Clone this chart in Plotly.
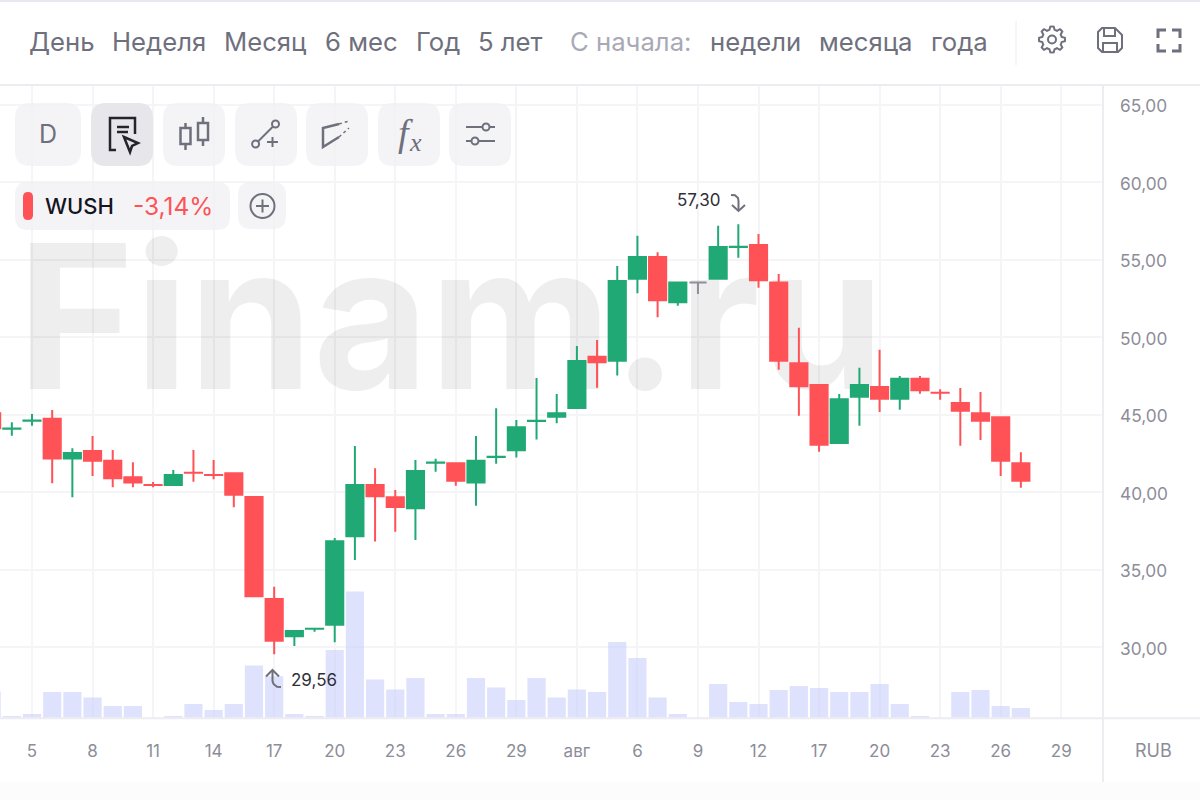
import math
import plotly.graph_objects as go

W = 1200
H = 800

# candles are placed by trading-day index, the axis has no calendar gaps
days = list(range(-2, 50))
opens = [45.11, 44.11, 44.63, 44.75, 42.20, 42.68, 42.04, 40.99, 40.49, 40.48, 41.28, 41.13, 41.24,
         39.71, 33.13, 30.72, 31.20, 31.47, 37.17, 40.49, 39.69, 38.98, 41.92, 41.89, 40.65, 42.29,
         42.72, 44.61, 44.89, 45.45, 48.75, 48.50, 53.79, 55.20, 52.27, 53.55, 53.79, 55.84, 55.97,
         53.54, 48.34, 46.94, 43.19, 46.18, 46.81, 46.05, 47.33, 46.44, 45.78, 45.11, 44.86, 41.89]
highs = [45.17, 44.53, 45.06, 45.32, 42.85, 43.65, 42.74, 41.95, 40.68, 41.45, 42.74, 42.10, 41.30,
         39.77, 33.92, 31.13, 31.26, 37.06, 43.00, 41.56, 40.16, 42.10, 42.18, 41.95, 43.65, 45.43,
         44.68, 47.39, 46.35, 49.45, 49.84, 54.61, 56.57, 55.50, 53.60, 53.60, 57.21, 57.30, 56.68,
         54.10, 50.63, 47.00, 46.35, 48.05, 49.21, 47.52, 47.52, 46.66, 46.74, 46.48, 44.92, 42.59]
lows = [44.08, 43.66, 44.31, 40.59, 39.69, 41.06, 40.34, 40.34, 40.34, 40.42, 40.70, 40.85, 39.05,
        33.24, 29.56, 30.10, 31.02, 30.34, 35.65, 36.83, 37.47, 36.94, 41.34, 40.44, 39.15, 41.86,
        42.25, 43.41, 44.46, 45.39, 46.76, 47.54, 52.85, 51.30, 52.05, 52.81, 53.73, 55.15, 53.21,
        47.92, 44.95, 42.63, 43.13, 44.31, 45.19, 45.34, 46.37, 45.99, 43.02, 43.39, 41.06, 40.31]
closes = [44.14, 44.12, 44.64, 42.20, 42.55, 42.05, 40.91, 40.65, 40.48, 41.13, 41.27, 41.12, 39.85,
          33.30, 30.43, 31.07, 31.21, 36.86, 40.49, 39.75, 39.07, 41.39, 41.93, 40.76, 42.04, 42.30,
          44.21, 44.62, 45.11, 48.49, 48.40, 53.65, 55.20, 52.40, 53.54, 53.55, 55.84, 55.85, 53.69,
          48.50, 46.85, 43.08, 46.02, 46.94, 46.05, 47.33, 46.59, 46.43, 45.27, 44.63, 42.05, 40.76]
volumes = [26.7, 2.3, 4.3, 26.3, 26.3, 20.7, 12.3, 12.3, 0, 2.3, 14.3, 8.3, 14.3, 52.7, 42, 4.3, 2.3,
           68.3, 126.7, 38.7, 28.7, 40.3, 4.3, 4.3, 40.3, 30.7, 18.3, 40.3, 20.7, 28.7, 26.3, 76.3,
           60.3, 20.7, 4.3, 0, 34.3, 16.3, 14.3, 28.3, 32.3, 30.3, 26.3, 26.3, 34.3, 14.3, 2.3, 0,
           26.3, 28.3, 12.3, 10.3]

# the one unchanged day is grey
flat_day = 33

tick_days = list(range(0, 52, 3))
tick_labels = ['5', '8', '11', '14', '17', '20', '23', '26', '29', 'авг',
               '6', '9', '12', '17', '20', '23', '26', '29']
price_ticks = [30, 35, 40, 45, 50, 55, 60, 65]

period_labels = [('День', 27), ('Неделя', 110), ('Месяц', 222), ('6 мес', 323), ('Год', 414), ('5 лет', 476),
                 ('недели', 708), ('месяца', 817), ('года', 929)]

GREEN = '#20a975'
RED = '#ff5257'
GREY = '#6f707d'
LIGHT = '#8d8d99'
LINE = '#ececf1'
GRID = '#f5f5f8'
FONT = 'Inter'

price_range = [25.43, 66.29]
x_range = [-1.586, 53.07]
plot_left, plot_right, plot_top, plot_bottom = 0, 1103, 85, 718.3


def fx(x):
    return x / W


def fy(y):
    return 1 - y / H


def rrect(x0, y0, x1, y1, r):
    pts = [('M', x0 + r, y0), ('L', x1 - r, y0), ('Q', x1, y0, x1, y0 + r), ('L', x1, y1 - r),
           ('Q', x1, y1, x1 - r, y1), ('L', x0 + r, y1), ('Q', x0, y1, x0, y1 - r), ('L', x0, y0 + r),
           ('Q', x0, y0, x0 + r, y0)]
    out = ''
    for p in pts:
        if p[0] == 'Q':
            out += f'Q{fx(p[1])},{fy(p[2])} {fx(p[3])},{fy(p[4])} '
        else:
            out += f'{p[0]}{fx(p[1])},{fy(p[2])} '
    return out + 'Z'


def poly(points, close=False):
    out = ''
    for i, (x, y) in enumerate(points):
        out += ('M' if i == 0 else 'L') + f'{fx(x)},{fy(y)} '
    return out + ('Z' if close else '')


shapes = []
annotations = []


def box(x0, y0, x1, y1, r, fill):
    shapes.append(dict(type='path', path=rrect(x0, y0, x1, y1, r), xref='paper', yref='paper',
                       fillcolor=fill, line=dict(width=0), layer='above'))


def stroke(points, color=GREY, width=2, close=False, dash='solid'):
    shapes.append(dict(type='path', path=poly(points, close), xref='paper', yref='paper',
                       line=dict(color=color, width=width, dash=dash), layer='above'))


def ring(cx, cy, r, color=GREY, width=2):
    shapes.append(dict(type='circle', xref='paper', yref='paper', x0=fx(cx - r), x1=fx(cx + r),
                       y0=fy(cy + r), y1=fy(cy - r), line=dict(color=color, width=width), layer='above'))


def label(text, x, y, size, color, anchor='left', weight=400, family=FONT):
    annotations.append(dict(text=text, x=fx(x), y=fy(y), xref='paper', yref='paper', showarrow=False,
                            xanchor=anchor, yanchor='middle', align=anchor,
                            font=dict(family=family, size=size, color=color, weight=weight)))


# header
for text, left in period_labels:
    label(text, left, 42, 25.7, GREY)
label('С начала:', 568, 42, 25.7, '#a9a9b5')

stroke([(0, 1), (1200, 1)], '#e8e8f0', 2)
stroke([(0, 85), (1200, 85)], LINE, 2)
stroke([(1016, 21), (1016, 65)], LINE, 1)
stroke([(0, 718.3), (1200, 718.3)], LINE, 2)
stroke([(1103, 85), (1103, 782)], LINE, 2)
shapes.append(dict(type='rect', xref='paper', yref='paper', x0=0, x1=1, y0=0, y1=fy(782),
                   fillcolor='#fcfcfd', line=dict(width=0), layer='below'))

# gear
gear = []
for i in range(48):
    a = 2 * math.pi * i / 48
    r = 13 if (i + 1) % 6 < 3 else 10
    gear.append((1052 + r * math.sin(a), 39.5 - r * math.cos(a)))
stroke(gear, GREY, 2, close=True)
ring(1052, 39.5, 4)

# save
stroke([(1102, 28), (1115, 28), (1122, 35), (1122, 48), (1118, 52), (1102, 52), (1098, 48), (1098, 32)],
       GREY, 2, close=True)
stroke([(1104, 28), (1104, 36), (1115, 36), (1115, 28)])
stroke([(1103, 52), (1103, 43), (1117, 43), (1117, 52)])

# fullscreen
for a, b, c in [((1158, 38), (1158, 30), (1166, 30)), ((1172, 30), (1180, 30), (1180, 38)),
                ((1158, 44), (1158, 51), (1166, 51)), ((1172, 51), (1180, 51), (1180, 44))]:
    stroke([a, b, c], GREY, 3)

# drawing tool buttons
box(15, 103, 81, 166, 15, 'rgba(240,240,244,0.75)')
box(91, 103, 153, 166, 15, '#e6e6eb')
for left in [163, 235, 306, 378, 449]:
    box(left, 103, left + 62, 166, 15, 'rgba(240,240,244,0.75)')
label('D', 48, 134, 25, GREY, anchor='center')

stroke([(116, 150), (110, 150), (110, 118), (135, 118), (135, 134)], '#24242c', 2.5)
stroke([(117, 127), (129, 127)], '#24242c', 2.5)
stroke([(117, 132), (128, 132)], '#24242c', 2.5)
stroke([(124, 137), (138, 143), (132, 146), (130, 152)], '#24242c', 2.5, close=True)

stroke([(180.5, 128), (190.5, 128), (190.5, 144), (180.5, 144)], GREY, 2.5, close=True)
stroke([(185.5, 123), (185.5, 128)], GREY, 2.5)
stroke([(185.5, 144), (185.5, 150)], GREY, 2.5)
stroke([(198, 123), (208, 123), (208, 140), (198, 140)], GREY, 2.5, close=True)
stroke([(203, 117), (203, 123)], GREY, 2.5)
stroke([(203, 140), (203, 146)], GREY, 2.5)

ring(275.5, 124, 3.5)
ring(255.6, 144, 3.5)
stroke([(258, 141.5), (273, 126.5)])
stroke([(267, 142), (278, 142)])
stroke([(272.5, 137), (272.5, 147)])

stroke([(339, 124), (323, 128), (323, 147), (339, 137)], GREY, 2.5)
stroke([(339, 124), (349, 121)], GREY, 1.5, dash='dot')
stroke([(339, 137), (349, 128)], GREY, 1.5, dash='dot')

label('<i>f</i>', 405, 133, 38, GREY, anchor='center', family='Liberation Serif')
label('<i>x</i>', 415, 143, 26, GREY, anchor='center', family='Liberation Serif')

stroke([(466, 127), (482, 127)])
stroke([(490, 127), (495, 127)])
ring(486, 127, 3.5)
stroke([(466, 141), (471, 141)])
stroke([(479, 141), (495, 141)])
ring(475, 141, 3.5)

# ticker chip
box(15, 182, 230, 230, 13, 'rgba(240,240,244,0.75)')
box(238, 182, 286, 229, 13, 'rgba(240,240,244,0.75)')
box(23, 192, 33, 220, 5, RED)
label('WUSH', 43, 206, 22, '#15151f', weight=500)
label('-3,14%', 131, 206, 24.5, RED)
ring(262.5, 206, 12)
stroke([(256, 206), (269, 206)])
stroke([(262.5, 199.5), (262.5, 212.5)])

# extreme labels
label('57,30', 675, 200, 17, '#2f2f38')
stroke([(731, 195), (735, 195.3), (738, 198), (738.5, 201), (738.5, 211)])
stroke([(732, 205), (738.5, 211), (745, 205)])
label('29,56', 289, 680, 17, '#2f2f38')
stroke([(281, 687), (277, 686.7), (273.5, 684), (272.5, 681), (272.5, 670)])
stroke([(266, 676.5), (272.5, 670), (279, 676.5)])

label('RUB', 1153.5, 750, 18, LIGHT, anchor='center')

fig = go.Figure()

# watermark goes on the bottom y axis so that it stays behind the candles
fig.add_trace(go.Scatter(x=[20.75], y=[49.9], mode='text', text=['Finam.ru'], yaxis='y',
                         textfont=dict(family=FONT, size=200, color='rgba(0,0,0,0.065)', weight=700),
                         textposition='middle center', hoverinfo='skip', showlegend=False))

fig.add_trace(go.Bar(x=days, y=volumes, yaxis='y2', marker=dict(color='rgba(195,203,250,0.55)', line_width=0),
                     hoverinfo='skip', showlegend=False))

moving = [i for i, d in enumerate(days) if d != flat_day]
flat = [i for i, d in enumerate(days) if d == flat_day]

fig.add_trace(go.Candlestick(
    x=[days[i] for i in moving], open=[opens[i] for i in moving], high=[highs[i] for i in moving],
    low=[lows[i] for i in moving], close=[closes[i] for i in moving], yaxis='y3',
    increasing=dict(line=dict(color=GREEN, width=2), fillcolor=GREEN),
    decreasing=dict(line=dict(color=RED, width=2), fillcolor=RED),
    hoverinfo='skip', showlegend=False))
fig.add_trace(go.Candlestick(
    x=[days[i] for i in flat], open=[opens[i] for i in flat], high=[highs[i] for i in flat],
    low=[lows[i] for i in flat], close=[closes[i] for i in flat], yaxis='y3',
    increasing=dict(line=dict(color='#8e8e9c', width=2), fillcolor='#8e8e9c'),
    decreasing=dict(line=dict(color='#8e8e9c', width=2), fillcolor='#8e8e9c'),
    hoverinfo='skip', showlegend=False))

y_domain = [fy(plot_bottom), fy(plot_top)]

fig.update_layout(
    width=W, height=H,
    margin=dict(l=0, r=0, t=0, b=0),
    paper_bgcolor='white',
    plot_bgcolor='white',
    separators=', ',
    font=dict(family=FONT, size=17, color=LIGHT),
    barmode='overlay',
    bargap=0.1,
    boxgap=0.15,
    boxgroupgap=0,
    showlegend=False,
    hovermode=False,
    xaxis=dict(domain=[fx(plot_left), fx(plot_right)], range=x_range, tickmode='array', tickvals=tick_days,
               ticktext=tick_labels, showgrid=True, gridcolor=GRID, gridwidth=2, zeroline=False, showline=False,
               ticks='', ticklabelstandoff=21, rangeslider=dict(visible=False), fixedrange=True,
               tickfont=dict(family=FONT, size=17, color=LIGHT)),
    yaxis=dict(domain=y_domain, range=price_range, side='right', tickmode='array', tickvals=price_ticks,
               tickformat='.2f', showgrid=True, gridcolor=GRID, gridwidth=2, zeroline=False, showline=False,
               ticks='', ticklabelstandoff=16, ticklabelshift=1, fixedrange=True,
               tickfont=dict(family=FONT, size=17.3, color=LIGHT)),
    yaxis2=dict(domain=y_domain, range=[0, plot_bottom - plot_top], overlaying='y', visible=False, fixedrange=True),
    yaxis3=dict(domain=y_domain, range=price_range, overlaying='y', visible=False, fixedrange=True),
    shapes=shapes,
    annotations=annotations,
)

fig.write_html("out.html", config=dict(displayModeBar=False),
               post_script="document.body.style.margin='0';document.body.style.overflow='hidden';")
